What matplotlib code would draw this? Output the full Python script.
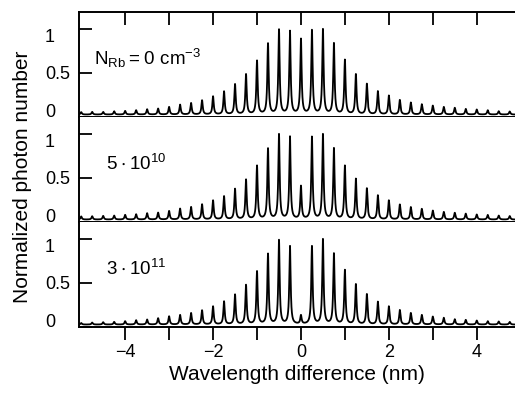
import numpy as np
import matplotlib
matplotlib.use("Agg")
import matplotlib.pyplot as plt
from matplotlib.transforms import ScaledTranslation

plt.rcParams['font.family'] = ['Liberation Sans', 'DejaVu Sans']
plt.rcParams['mathtext.default'] = 'regular'

# peak positions of the mode comb (nm)
peak_nm = [-5.0, -4.75, -4.5, -4.25, -4.0, -3.75, -3.5, -3.25, -3.0, -2.75,
           -2.5, -2.25, -2.0, -1.75, -1.5, -1.25, -1.0, -0.75, -0.5, -0.25,
           0.0, 0.25, 0.5, 0.75, 1.0, 1.25, 1.5, 1.75, 2.0, 2.25,
           2.5, 2.75, 3.0, 3.25, 3.5, 3.75, 4.0, 4.25, 4.5, 4.75]

# normalized peak heights
peaks_0 = [0.05, 0.053, 0.053, 0.06, 0.064, 0.072, 0.083, 0.091, 0.11, 0.136,
           0.155, 0.186, 0.231, 0.288, 0.371, 0.485, 0.64, 0.837, 0.996, 0.98,
           0.89, 0.99, 1.0, 0.84, 0.65, 0.485, 0.375, 0.29, 0.24, 0.19,
           0.16, 0.14, 0.125, 0.11, 0.10, 0.087, 0.08, 0.072, 0.06, 0.057]
peaks_5e10 = [0.058, 0.06, 0.064, 0.068, 0.076, 0.083, 0.095, 0.102, 0.121, 0.148,
              0.167, 0.197, 0.242, 0.29, 0.375, 0.481, 0.64, 0.837, 1.0, 0.973,
              0.41, 0.97, 1.0, 0.84, 0.64, 0.49, 0.38, 0.30, 0.242, 0.195,
              0.165, 0.145, 0.125, 0.11, 0.10, 0.09, 0.08, 0.075, 0.068, 0.062]
peaks_3e11 = [0.04, 0.045, 0.049, 0.053, 0.061, 0.072, 0.08, 0.095, 0.117, 0.133,
              0.155, 0.186, 0.231, 0.288, 0.367, 0.477, 0.633, 0.833, 0.99, 0.92,
              0.133, 0.92, 1.0, 0.837, 0.648, 0.485, 0.371, 0.284, 0.231, 0.189,
              0.155, 0.133, 0.114, 0.10, 0.083, 0.076, 0.068, 0.061, 0.057, 0.053]

panel_labels = [r'$N_{Rb} = 0\ cm^{-3}$', r'$5\cdot10^{10}$', r'$3\cdot10^{11}$']
label_x = [-4.7, -4.44, -4.44]

baseline = 0.022
hwhm = 0.018


def spectrum(x, pos, heights):
    pos = np.asarray(pos)
    h = np.asarray(heights) - baseline
    lor = lambda d: 1.0 / (1.0 + (d / hwhm) ** 2)
    # solve for amplitudes so that the summed curve hits the read peak tops
    M = lor(pos[:, None] - pos[None, :])
    amp = np.linalg.solve(M, h)
    return baseline + (amp[None, :] * lor(x[:, None] - pos[None, :])).sum(axis=1)


fig = plt.figure(figsize=(5.15, 3.95), dpi=100)
left, width = 79 / 515, 436 / 515
tops = [12, 117, 222]
h_px = 104.5
x = np.linspace(-5.1, 4.9, 6000)
# the scanned y labels sit a little off their ticks (points)
ylab_shift = [4, 0, -5]

axes = []
for i, (heights, lab, lx) in enumerate(zip([peaks_0, peaks_5e10, peaks_3e11], panel_labels, label_x)):
    bottom = 1 - (tops[i] + h_px) / 395
    ax = fig.add_axes([left, bottom, width, h_px / 395])
    ax.plot(x, spectrum(x, peak_nm, heights), color='black', lw=1.3)
    ax.set_xlim(-5.05, 4.87)
    ax.set_ylim(0, 1.19)
    ax.set_yticks([0, 0.5, 1])
    ax.set_yticklabels(['0', '0.5', '1'])
    ax.tick_params(axis='y', direction='in', length=9.5, width=1.3, labelsize=13, pad=24.5)
    for t, dy in zip(ax.get_yticklabels(), ylab_shift):
        t.set_horizontalalignment('left')
        t.set_transform(t.get_transform() + ScaledTranslation(0, dy / 72, fig.dpi_scale_trans))
    ax.spines['right'].set_visible(False)
    for s in ['left', 'top', 'bottom']:
        ax.spines[s].set_linewidth(1.4)
    if i > 0:
        ax.spines['top'].set_visible(False)
    ax.text(lx, 0.59, lab, fontsize=13.5, ha='left', va='baseline')
    axes.append(ax)

ticks = [-4, -3, -2, -1, 0, 1, 2, 3, 4]
tick_labels = ['\u22124', '', '\u22122', '', '0', '', '2', '', '4']

top_ax = axes[0]
top_ax.set_xticks(ticks)
top_ax.tick_params(axis='x', top=True, bottom=False, labelbottom=False,
                   direction='in', length=9.5, width=1.3)
axes[1].tick_params(axis='x', bottom=False, labelbottom=False)
bot_ax = axes[2]
bot_ax.set_xticks(ticks)
bot_ax.set_xticklabels(tick_labels)
bot_ax.tick_params(axis='x', direction='out', length=9.5, width=1.3, labelsize=13, pad=3)
bot_ax.set_xlabel('Wavelength difference (nm)', fontsize=15, labelpad=3)

fig.text(23 / 515, 1 - 177 / 395, 'Normalized photon number', rotation=90,
         ha='center', va='center', fontsize=15)

fig.savefig('out.png', dpi=100)
